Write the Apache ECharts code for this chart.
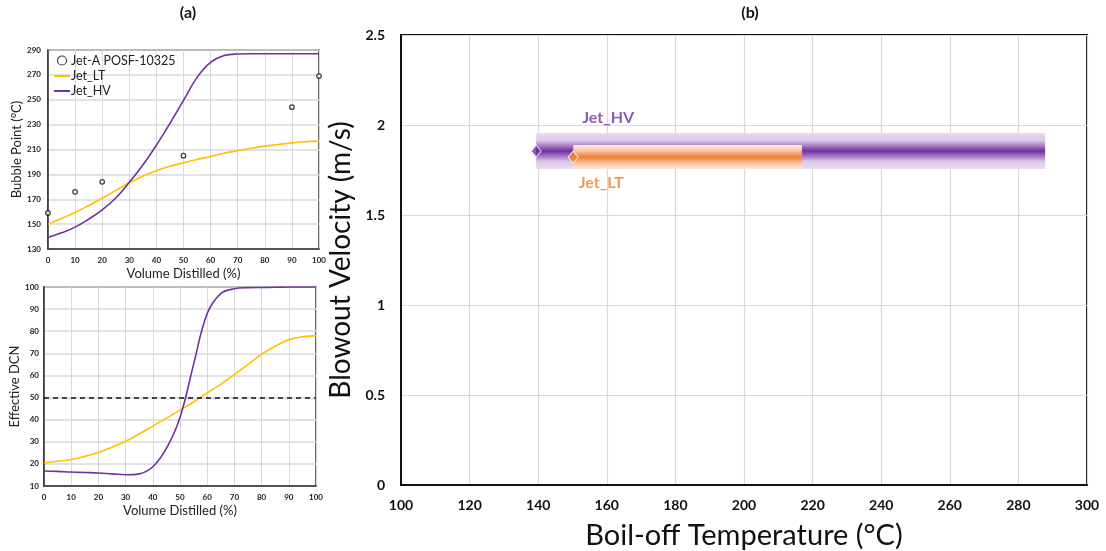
<!DOCTYPE html>
<html>
<head>
<meta charset="utf-8">
<script src="https://cdn.jsdelivr.net/npm/echarts@6/dist/echarts.min.js"></script>
<style>
html,body{margin:0;padding:0;background:#fff;}
#chart{width:1106px;height:551px;}
</style>
</head>
<body>
<div id="chart"></div>
<script>
// ---- Panel (a) top: bubble point ----
const volume = [0,5,10,15,20,25,30,35,40,45,50,55,60,65,70,75,80,85,90,95,100];
const bubbleLT = [150,154.5,159.3,165,170.8,177,183.3,188.5,193,196.5,199.3,202,204.4,207,209,211,212.7,214,215.3,216.2,216.7];
const bubbleHV = [139.3,143,147.6,154,161.5,171,183.6,197.5,213.5,231,249.5,268,280,285.5,286.8,287,287,287,287,287,287];
const jetAVolume = [0,10,20,50,90,100];
const jetABubble = [159,176,184,205,244,269];

// ---- Panel (a) bottom: effective DCN ----
const dcnLT = [20.5,21.2,22,23.4,25.2,27.5,30.2,33.5,37.1,40.7,44.3,48,52.1,56,60.4,65,69.6,73.2,76.2,77.5,77.9];
const dcnHV = [16.8,16.6,16.3,16.1,15.9,15.5,15.1,15.5,18.7,27,41,65,88,97,99.2,99.7,99.8,99.9,100,100,100];
const dcnThreshold = 50;

// ---- Panel (b): blowout velocity ranges ----
// [start temp, end temp, velocity, band thickness (m/s)]
const rangeHV = [139.4, 287.8, 1.855, 0.2];
const rangeLT = [150.2, 216.9, 1.822, 0.133];

const FONT = 'Lato, "Open Sans", sans-serif';
const grey = '#d9d9d9';
const LINE_ICON = 'path://M0,3.9 L16,3.9 L16,5.9 L0,5.9 Z M0,0 L0.01,0 L0.01,0.01 Z M0,9 L0.01,9 L0.01,8.99 Z';

function pairs(xs, ys){ return xs.map((x,i)=>[x, ys[i]]); }

function bandItem(stops){
  return function(params, api){
    const s = api.coord([api.value(0), api.value(2)]);
    const e = api.coord([api.value(1), api.value(2)]);
    const h = api.size([0, api.value(3)])[1];
    return {
      type:'rect',
      shape:{x:s[0], y:s[1]-h/2, width:e[0]-s[0], height:h},
      style:{fill:new echarts.graphic.LinearGradient(0,0,0,1,stops)}
    };
  };
}

const smallAxisLabel = {fontFamily:FONT, fontWeight:'bold', fontSize:8, color:'#222'};
const smallName = {fontFamily:FONT, fontSize:13, color:'#222'};

const chart = echarts.init(document.getElementById('chart'), null, {renderer:'canvas'});
chart.setOption({
  animation:false,
  backgroundColor:'#fff',
  title:[
    {text:'(a)', left:183, top:0, textAlign:'center', textStyle:{fontFamily:FONT, fontWeight:'bold', fontSize:16, color:'#111'}},
    {text:'(b)', left:745, top:0, textAlign:'center', textStyle:{fontFamily:FONT, fontWeight:'bold', fontSize:16, color:'#111'}}
  ],
  legend:{
    left:49, top:49, orient:'vertical', itemGap:2, itemWidth:16, itemHeight:9,
    textStyle:{fontFamily:FONT, fontSize:12.5, color:'#222', padding:[0,0,0,-4]},
    data:[
      {name:'Jet-A POSF-10325', icon:'circle', itemStyle:{color:'#fff', borderColor:'#111', borderWidth:1.2}},
      {name:'Jet_LT', icon:LINE_ICON, itemStyle:{color:'#ffc000', borderWidth:0}},
      {name:'Jet_HV', icon:LINE_ICON, itemStyle:{color:'#7030a0', borderWidth:0}}
    ]
  },
  grid:[
    {left:48, top:50, width:271, height:199, show:true, borderColor:'#333', borderWidth:1.5, outerBoundsMode:'none', containLabel:false},
    {left:44, top:287, width:272, height:199, show:true, borderColor:'#333', borderWidth:1.5, outerBoundsMode:'none', containLabel:false},
    {left:401, top:35, width:686, height:450, show:true, borderColor:'#111', borderWidth:2, outerBoundsMode:'none', containLabel:false}
  ],
  xAxis:[
    {gridIndex:0, type:'value', min:0, max:100, interval:10,
     name:'Volume Distilled (%)', nameLocation:'middle', nameGap:18, nameTextStyle:smallName,
     axisLine:{lineStyle:{color:'#333', width:1.5}}, axisTick:{show:false},
     axisLabel:Object.assign({margin:7}, smallAxisLabel), splitLine:{lineStyle:{color:grey}}},
    {gridIndex:1, type:'value', min:0, max:100, interval:10,
     name:'Volume Distilled (%)', nameLocation:'middle', nameGap:18, nameTextStyle:smallName,
     axisLine:{lineStyle:{color:'#333', width:1.5}}, axisTick:{show:false},
     axisLabel:Object.assign({margin:7}, smallAxisLabel), splitLine:{lineStyle:{color:grey}}},
    {gridIndex:2, type:'value', min:100, max:300, interval:20,
     name:'Boil-off Temperature (°C)', nameLocation:'middle', nameGap:36,
     nameTextStyle:{fontFamily:FONT, fontSize:29, color:'#111'},
     axisLine:{lineStyle:{color:'#111', width:2}}, axisTick:{show:false},
     axisLabel:{fontFamily:FONT, fontWeight:'bold', fontSize:14, color:'#111', margin:13},
     splitLine:{lineStyle:{color:grey, width:1.2}}}
  ],
  yAxis:[
    {gridIndex:0, type:'value', min:130, max:290, interval:20,
     name:'Bubble Point (°C)', nameLocation:'middle', nameGap:25, nameTextStyle:smallName,
     axisLine:{lineStyle:{color:'#333', width:1.5}}, axisTick:{show:false},
     axisLabel:Object.assign({margin:7}, smallAxisLabel), splitLine:{lineStyle:{color:grey, width:1.5}}},
    {gridIndex:1, type:'value', min:10, max:100, interval:10,
     name:'Effective DCN', nameLocation:'middle', nameGap:22, nameTextStyle:smallName,
     axisLine:{lineStyle:{color:'#333', width:1.5}}, axisTick:{show:false},
     axisLabel:Object.assign({margin:5}, smallAxisLabel), splitLine:{lineStyle:{color:grey, width:1.5}}},
    {gridIndex:2, type:'value', min:0, max:2.5, interval:0.5,
     name:'Blowout Velocity (m/s)', nameLocation:'middle', nameGap:40,
     nameTextStyle:{fontFamily:FONT, fontSize:28, color:'#111'},
     axisLine:{lineStyle:{color:'#111', width:2}}, axisTick:{show:false},
     axisLabel:{fontFamily:FONT, fontWeight:'bold', fontSize:14, color:'#111', margin:16},
     splitLine:{lineStyle:{color:grey, width:1.2}}}
  ],
  series:[
    {name:'Jet-A POSF-10325', type:'scatter', xAxisIndex:0, yAxisIndex:0,
     data:pairs(jetAVolume, jetABubble), symbol:'circle', symbolSize:4.5,
     itemStyle:{color:'#fff', borderColor:'#111', borderWidth:1.3}, z:5},
    {name:'Jet_LT', type:'line', xAxisIndex:0, yAxisIndex:0, data:pairs(volume, bubbleLT),
     smooth:0.4, symbol:'none', color:'#ffc000', lineStyle:{color:'#ffc000', width:1.6}},
    {name:'Jet_HV', type:'line', xAxisIndex:0, yAxisIndex:0, data:pairs(volume, bubbleHV),
     smooth:0.4, symbol:'none', color:'#7030a0', lineStyle:{color:'#7030a0', width:1.6}},
    {name:'Jet_LT', type:'line', xAxisIndex:1, yAxisIndex:1, data:pairs(volume, dcnLT),
     smooth:0.4, symbol:'none', color:'#ffc000', lineStyle:{color:'#ffc000', width:1.6},
     markLine:{silent:true, symbol:'none', label:{show:false},
       lineStyle:{color:'#111', type:[5,4], width:1.5}, data:[{yAxis:dcnThreshold}]}},
    {name:'Jet_HV', type:'line', xAxisIndex:1, yAxisIndex:1, data:pairs(volume, dcnHV),
     smooth:0.4, symbol:'none', color:'#7030a0', lineStyle:{color:'#7030a0', width:1.6}},
    {type:'custom', xAxisIndex:2, yAxisIndex:2, data:[rangeHV],
     renderItem:bandItem([
       {offset:0, color:'#e8dbf2'},{offset:0.2, color:'#dccaea'},{offset:0.5, color:'#7030a0'},
       {offset:0.8, color:'#dccaea'},{offset:1, color:'#e8dbf2'}]), z:2},
    {type:'custom', xAxisIndex:2, yAxisIndex:2, data:[rangeLT],
     renderItem:bandItem([
       {offset:0, color:'#fde7da'},{offset:0.2, color:'#f9cfb3'},{offset:0.5, color:'#ed7d31'},
       {offset:0.8, color:'#f9cfb3'},{offset:1, color:'#fde7da'}]), z:3},
    {type:'scatter', xAxisIndex:2, yAxisIndex:2, data:[[rangeHV[0], rangeHV[2]]],
     symbol:'diamond', symbolSize:[10,12], z:6,
     itemStyle:{color:'#7030a0', borderColor:'#fff', borderWidth:1},
     label:{show:true, formatter:'Jet_HV', position:'inside', offset:[72,-33],
       fontFamily:FONT, fontWeight:'bold', fontSize:16, color:'#7030a0'}},
    {type:'scatter', xAxisIndex:2, yAxisIndex:2, data:[[rangeLT[0], rangeLT[2]]],
     symbol:'diamond', symbolSize:[10,12], z:6,
     itemStyle:{color:'#ed7d31', borderColor:'#fff', borderWidth:1},
     label:{show:true, formatter:'Jet_LT', position:'inside', offset:[28,26],
       fontFamily:FONT, fontWeight:'bold', fontSize:16, color:'#ed7d31'}}
  ]
});
</script>
</body>
</html>
